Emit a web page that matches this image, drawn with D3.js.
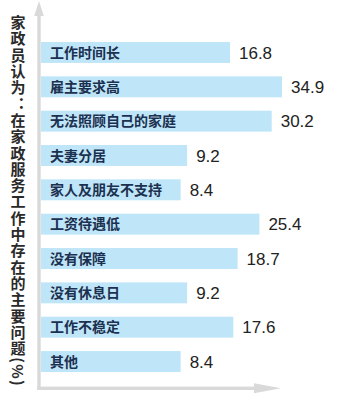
<!DOCTYPE html>
<html><head><meta charset="utf-8">
<script src="https://cdn.jsdelivr.net/npm/d3@7"></script>
<style>html,body{margin:0;padding:0;background:#fff;}svg{display:block;}</style>
</head><body>
<script>
const categories = ["工作时间长","雇主要求高","无法照顾自己的家庭","夫妻分居","家人及朋友不支持","工资待遇低","没有保障","没有休息日","工作不稳定","其他"];
const values = [16.8,34.9,30.2,9.2,8.4,25.4,18.7,9.2,17.6,8.4];
const title = "家政员认为：在家政服务工作中存在的主要问题(%)";

const W = 361, H = 400;
const svg = d3.select("body").append("svg").attr("width", W).attr("height", H);

const x = d3.scaleLog().domain([1.18, 34.9]).range([41, 282]);
const y = d3.scaleBand().domain(categories).range([42, 372]).paddingInner(0.39).paddingOuter(0);

// axes (arrows)
const axisColor = "#d9d9d9";
svg.append("rect").attr("x", 37.3).attr("y", 12).attr("width", 3.4).attr("height", 378).attr("fill", axisColor);
svg.append("path").attr("d", "M39,1 L43.8,16 L34.2,16 Z").attr("fill", axisColor);
svg.append("rect").attr("x", 37.3).attr("y", 386.6).attr("width", 220).attr("height", 3.4).attr("fill", axisColor);
svg.append("path").attr("d", "M281,388.3 L254,383.3 L254,393.3 Z").attr("fill", axisColor);

// bars
const g = svg.append("g");
g.selectAll("rect.bar").data(categories).join("rect")
  .attr("class","bar")
  .attr("x", x.range()[0])
  .attr("y", d => y(d))
  .attr("width", (d,i) => x(values[i]) - x.range()[0])
  .attr("height", y.bandwidth())
  .attr("fill", "#bee6f8");

g.selectAll("text.lab").data(categories).join("text")
  .attr("class","lab")
  .attr("x", x.range()[0] + 9)
  .attr("y", d => y(d) + y.bandwidth()/2)
  .attr("dy", "0.36em")
  .attr("font-family", "'Noto Sans CJK SC', sans-serif")
  .attr("font-weight", "bold")
  .attr("font-size", 14)
  .attr("fill", "#1c3050")
  .text(d => d);

g.selectAll("text.val").data(categories).join("text")
  .attr("class","val")
  .attr("x", (d,i) => x(values[i]) + 9)
  .attr("y", d => y(d) + y.bandwidth()/2)
  .attr("dy", "0.36em")
  .attr("font-family", "'Liberation Sans', Arial, sans-serif")
  .attr("font-size", 17)
  .attr("fill", "#222")
  .text((d,i) => values[i].toFixed(1));

// vertical title
svg.append("text")
  .attr("x", 18)
  .attr("y", 15)
  .style("writing-mode", "vertical-rl")
  .style("letter-spacing", "1.3px")
  .attr("font-family", "'Noto Sans CJK SC', sans-serif")
  .attr("font-weight", "bold")
  .attr("font-size", 15)
  .attr("fill", "#2a2a2a")
  .text(title);
</script>
</body></html>
